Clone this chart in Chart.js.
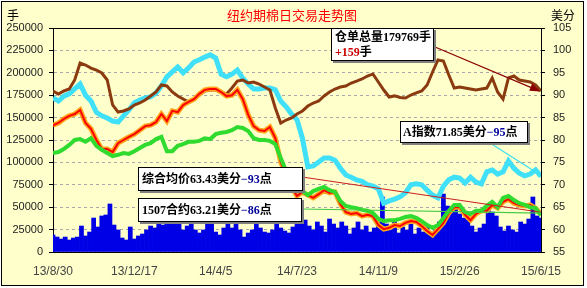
<!DOCTYPE html>
<html>
<head>
<meta charset="utf-8">
<script src="https://cdn.jsdelivr.net/npm/chart.js@4.4.0/dist/chart.umd.min.js"></script>
<style>
  html, body { margin: 0; padding: 0; background: #fff; }
  #wrap { width: 587px; height: 288px; }
</style>
</head>
<body>
<div id="wrap"><canvas id="c" width="587" height="288"></canvas></div>
<script>
// x轴日期
const tickLabels = ["13/8/30", "13/12/17", "14/4/5", "14/7/23", "14/11/9", "15/2/26", "15/6/15"];

// 成交量 (手)
const volumeVals = [
  19000, 16700, 14500, 16700, 13400, 15600, 16700, 29000, 17900, 22300,
  37900, 27900, 40200, 41300, 53600, 30100, 24600, 15600, 13400, 27900,
  14500, 17900, 20100, 24600, 29000, 26800, 31200, 30100, 33500, 37900,
  39100, 36800, 24600, 29000, 32400, 24600, 21200, 24600, 32400, 35700,
  22300, 19000, 26800, 35700, 26800, 33500, 24600, 16700, 21200, 24600,
  32400, 26800, 22300, 21200, 24600, 33500, 26800, 23400, 21200, 27900,
  37900, 32400, 35700, 29000, 24600, 33500, 29000, 22300, 36800, 31200,
  26800, 33500, 29000, 20100, 26800, 33500, 24600, 29000, 22300, 26800,
  33500, 61400, 31200, 24600, 33500, 21200, 27900, 24600, 31200, 20100,
  26800, 22300, 30100, 19000, 24600, 33500, 64700, 51300, 49100, 53600,
  42400, 37900, 44600, 29000, 22300, 26800, 31200, 52500, 44600, 40200,
  27900, 23400, 29000, 24600, 22300, 33500, 31200, 36800, 61400, 40200,
  37900
];

// 仓单总量 (手)
const stockVals = [
  179700, 176300, 179700, 181900, 192000, 210900, 208700, 205300, 203100, 199800,
  192000, 164100, 156200, 157400, 159600, 164100, 166300, 169600, 174100, 178600,
  186400, 185300, 178600, 174100, 170700, 167400, 170700, 175200, 179700, 180800,
  180800, 178600, 176300, 183000, 190800, 192000, 188600, 189700, 187500, 184100,
  180800, 160700, 144000, 147300, 149600, 154000, 157400, 162900, 166300, 168500,
  174100, 178600, 181900, 184100, 185300, 188600, 190800, 193100, 196400, 198700,
  189700, 180800, 173000, 174200, 172400, 171900, 175200, 177500, 179700, 186400,
  200900, 214300, 213200, 197500, 183000, 184100, 183000, 181900, 180800, 181900,
  183000, 194200, 178600, 170700, 194200, 196400, 192000, 190800, 189700, 186400,
  179769
];

// A指数 (美分)
const indexVals = [
  89.4, 88.7, 89.8, 90.3, 91.4, 92.5, 90.0, 88.7, 86.2, 85.4,
  84.9, 84.2, 84.0, 85.4, 86.7, 88.3, 88.9, 89.4, 89.6, 90.5,
  92.1, 94.1, 95.2, 96.3, 95.0, 96.1, 97.4, 97.9, 98.5, 99.0,
  98.3, 94.7, 94.1, 94.7, 95.6, 93.8, 92.5, 91.4, 91.4, 91.6,
  91.6, 91.2, 88.7, 87.4, 85.8, 84.5, 80.4, 74.0, 74.2, 75.1,
  76.0, 76.0, 75.5, 73.7, 72.2, 71.7, 71.1, 70.8, 70.0, 69.7,
  69.1, 65.9, 66.4, 66.8, 67.3, 68.2, 70.0, 70.2, 70.0, 68.8,
  67.7, 67.1, 69.7, 71.1, 71.7, 71.5, 70.4, 71.7, 70.6, 70.2,
  72.9, 73.3, 72.4, 72.9, 75.3, 73.7, 72.6, 72.0, 72.4, 73.3,
  71.85
];

// 综合均价 (美分)
const avgVals = [
  83.3, 83.8, 84.7, 85.4, 85.8, 86.7, 83.8, 82.5, 80.0, 78.0,
  78.0, 77.3, 79.3, 80.0, 80.7, 81.3, 82.2, 83.1, 83.3, 84.0,
  85.8, 84.2, 86.5, 86.2, 87.8, 88.5, 89.1, 90.3, 91.2, 91.4,
  91.4, 90.7, 89.8, 90.0, 91.2, 89.1, 85.6, 83.1, 82.2, 82.0,
  82.9, 80.4, 75.1, 72.2, 69.5, 67.5, 68.4, 67.7, 67.1, 67.9,
  68.8, 68.2, 68.4, 65.7, 63.9, 63.5, 63.7, 63.0, 63.3, 63.0,
  61.0, 60.1, 60.4, 61.0, 60.8, 61.5, 61.9, 61.7, 60.8, 59.7,
  58.8, 60.1, 61.5, 63.7, 65.0, 65.0, 63.3, 62.1, 63.5, 64.2,
  64.2, 65.5, 64.8, 66.2, 66.8, 65.9, 65.5, 65.3, 65.5, 64.8,
  63.43
];

// 1507合约 (美分)
const c1507Vals = [
  77.1, 77.3, 78.0, 78.9, 80.0, 80.2, 79.6, 80.4, 78.7, 77.8,
  77.1, 76.4, 76.7, 77.1, 76.9, 77.5, 78.2, 78.9, 79.3, 80.2,
  80.7, 77.5, 77.5, 78.7, 79.1, 79.6, 79.6, 79.8, 80.4, 80.2,
  81.3, 81.6, 81.8, 82.2, 82.9, 82.7, 82.0, 80.4, 80.0, 80.0,
  79.8, 79.1, 76.0, 73.1, 70.6, 69.1, 68.6, 67.7, 68.6, 69.1,
  69.5, 68.8, 68.4, 66.4, 65.3, 65.0, 64.8, 64.4, 64.2, 63.7,
  62.4, 61.9, 62.1, 62.1, 62.4, 62.8, 63.0, 62.6, 61.9, 61.0,
  60.4, 61.0, 62.6, 64.2, 65.5, 65.5, 63.9, 63.5, 64.2, 64.2,
  65.3, 66.2, 65.0, 67.1, 67.5, 66.6, 65.9, 65.5, 65.0, 64.8,
  63.21
];

const stockChange = "+159";
const indexChange = "−95";
const avgChange = "−93";
const c1507Change = "−86";

const X_MAX = 90;
const toPoints = (vals) => vals.map((v, i) => ({ x: i * X_MAX / (vals.length - 1), y: v }));

const cnFont = '"Noto Sans CJK SC", sans-serif';
const boxFont = 'bold 12px "Liberation Serif", "Noto Sans CJK SC", serif';

function drawSegs(ctx, x, y, segs) {
    segs.forEach(([text, color]) => {
        ctx.fillStyle = color;
        ctx.fillText(text, x, y);
        x += ctx.measureText(text).width;
    });
}

function drawBox(ctx, x, y, w, h) {
    ctx.fillStyle = "#808080";
    ctx.fillRect(x + 2, y + 2, w, h);
    ctx.fillStyle = "#fff";
    ctx.fillRect(x, y, w, h);
    ctx.strokeStyle = "#000";
    ctx.lineWidth = 1;
    ctx.strokeRect(x + 0.5, y + 0.5, w - 1, h - 1);
}

function line(ctx, x1, y1, x2, y2, color, w) {
    ctx.strokeStyle = color;
    ctx.lineWidth = w;
    ctx.beginPath();
    ctx.moveTo(x1, y1);
    ctx.lineTo(x2, y2);
    ctx.stroke();
}

const framePlugin = {
    id: "frame",
    beforeDraw(chart) {
        const ctx = chart.ctx;
        ctx.save();
        ctx.fillStyle = "#fff";
        ctx.fillRect(0, 0, chart.width, chart.height);
        ctx.fillStyle = "#FFFFCC";
        ctx.fillRect(1, 1, 583, 285);
        ctx.strokeStyle = "#000";
        ctx.lineWidth = 1;
        ctx.strokeRect(1.5, 1.5, 582, 284);
        ctx.restore();
    },
    afterDraw(chart) {
        const ctx = chart.ctx;
        const a = chart.chartArea;
        const xs = chart.scales.x, ys = chart.scales.y, ys1 = chart.scales.y1;
        ctx.save();

        // borde superior
        line(ctx, a.left, a.top + 0.5, a.right, a.top + 0.5, "#000", 1);

        // titulo y unidades
        ctx.textBaseline = "middle";
        ctx.textAlign = "center";
        ctx.font = "13px " + cnFont;
        ctx.fillStyle = "#FF0000";
        ctx.fillText("纽约期棉日交易走势图", 292, 15);
        ctx.font = "12px " + cnFont;
        ctx.fillStyle = "#000";
        ctx.fillText("手", 13, 15);
        ctx.fillText("美分", 563, 15);

        // lineas hacia el ultimo punto
        const endX = xs.getPixelForValue(X_MAX);
        const stockY = ys.getPixelForValue(stockVals[stockVals.length - 1]);
        const indexY = ys1.getPixelForValue(indexVals[indexVals.length - 1]);
        const avgY = ys1.getPixelForValue(avgVals[avgVals.length - 1]);
        const c1507Y = ys1.getPixelForValue(c1507Vals[c1507Vals.length - 1]);

        line(ctx, 435, 47, endX - 2, stockY, "#8B0000", 1.2);
        const ang = Math.atan2(stockY - 47, endX - 2 - 435);
        ctx.fillStyle = "#8B0000";
        ctx.beginPath();
        ctx.moveTo(endX - 1, stockY + 0.5);
        ctx.lineTo(endX - 1 - 10 * Math.cos(ang) + 4 * Math.sin(ang), stockY - 10 * Math.sin(ang) - 4 * Math.cos(ang));
        ctx.lineTo(endX - 1 - 10 * Math.cos(ang) - 4 * Math.sin(ang), stockY - 10 * Math.sin(ang) + 4 * Math.cos(ang));
        ctx.closePath();
        ctx.fill();

        line(ctx, 490, 143, endX - 3, indexY - 3, "#40E0F0", 1.3);
        line(ctx, 302, 177, endX, avgY - 2, "#CC2222", 1.2);
        line(ctx, 301, 209, endX, c1507Y - 2, "#44CC44", 1.2);

        // cuadros de texto
        ctx.textAlign = "left";
        ctx.font = boxFont;

        drawBox(ctx, 331, 28, 103, 33);
        drawSegs(ctx, 335, 38, [["仓单总量" + stockVals[stockVals.length - 1] + "手", "#000"]]);
        drawSegs(ctx, 335, 53, [[stockChange, "#CC0000"], ["手", "#000"]]);

        drawBox(ctx, 400, 121, 128, 22);
        drawSegs(ctx, 403, 132.5, [["A指数" + indexVals[indexVals.length - 1] + "美分", "#000"], [indexChange, "#000099"], ["点", "#000"]]);

        drawBox(ctx, 138, 167, 165, 24);
        drawSegs(ctx, 142, 179.5, [["综合均价" + avgVals[avgVals.length - 1] + "美分", "#000"], [avgChange, "#000099"], ["点", "#000"]]);

        drawBox(ctx, 138, 198, 164, 24);
        drawSegs(ctx, 142, 210.5, [["1507合约" + c1507Vals[c1507Vals.length - 1] + "美分", "#000"], [c1507Change, "#000099"], ["点", "#000"]]);

        ctx.restore();
    }
};

const tickFont = { family: "Liberation Sans", size: 11 };

new Chart(document.getElementById("c"), {
    data: {
        datasets: [
            { type: "line", label: "1507合约", data: toPoints(c1507Vals), yAxisID: "y1", borderColor: "#2EDB2E", borderWidth: 4, pointRadius: 0, tension: 0, order: 1 },
            { type: "line", label: "综合均价", data: toPoints(avgVals), yAxisID: "y1", borderColor: "#FF0000", borderWidth: 2, pointRadius: 0, tension: 0, order: 2 },
            { type: "line", label: "综合均价带", data: toPoints(avgVals), yAxisID: "y1", borderColor: "#FFA41C", borderWidth: 5, pointRadius: 0, tension: 0, order: 3 },
            { type: "line", label: "仓单总量", data: toPoints(stockVals), yAxisID: "y", borderColor: "#8B3A10", borderWidth: 3, pointRadius: 0, tension: 0, order: 4 },
            { type: "line", label: "A指数", data: toPoints(indexVals), yAxisID: "y1", borderColor: "#40E0F8", borderWidth: 5, pointRadius: 0, tension: 0, order: 5 },
            { type: "bar", label: "成交量", data: toPoints(volumeVals), yAxisID: "y", backgroundColor: "#0000E6", borderWidth: 0, barPercentage: 1, categoryPercentage: 1, order: 6 }
        ]
    },
    options: {
        responsive: false,
        animation: false,
        layout: { padding: { top: 28, left: 0, right: 0, bottom: 0 } },
        plugins: { legend: { display: false }, tooltip: { enabled: false } },
        scales: {
            x: {
                type: "linear",
                offset: false,
                min: 0,
                max: X_MAX,
                grid: { display: false, drawTicks: false, offset: false },
                border: { display: true, color: "#000", width: 1 },
                ticks: {
                    stepSize: 15,
                    autoSkip: false,
                    maxRotation: 0,
                    padding: 12,
                    color: "#444",
                    font: { family: "Liberation Sans", size: 12 },
                    callback: (v) => tickLabels[Math.round(v / 15)]
                },
                afterFit(s) { s.height = 36; }
            },
            y: {
                position: "left",
                min: 0,
                max: 250000,
                grid: { color: "#A8A8A8", tickColor: "#000", tickLength: 4 },
                border: { color: "#000", width: 1, dash: [3, 3] },
                ticks: { stepSize: 25000, padding: 6, color: "#222", font: tickFont, callback: (v) => String(v) },
                afterFit(s) { s.width = 53; }
            },
            y1: {
                position: "right",
                min: 55,
                max: 105,
                grid: { drawOnChartArea: false, tickColor: "#000", tickLength: 4 },
                border: { color: "#000", width: 1 },
                ticks: { stepSize: 5, padding: 8, color: "#222", font: tickFont, callback: (v) => String(v) },
                afterFit(s) { s.width = 46; }
            }
        }
    },
    plugins: [framePlugin]
});
</script>
</body>
</html>
